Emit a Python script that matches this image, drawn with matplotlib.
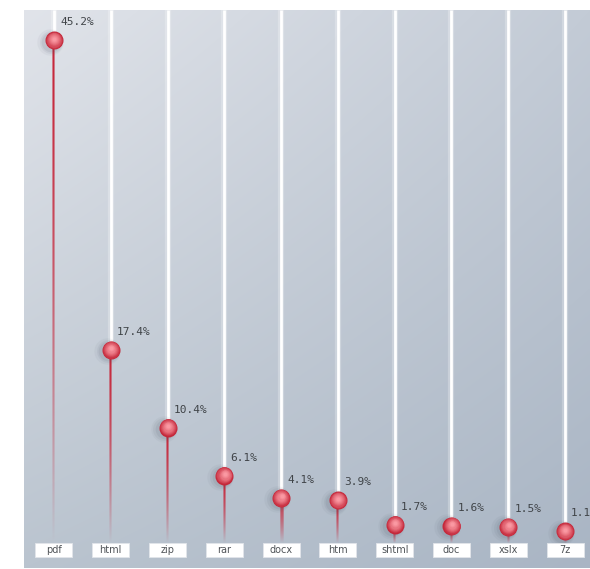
import numpy as np
import matplotlib
matplotlib.use("Agg")
import matplotlib.pyplot as plt
from matplotlib.patches import Rectangle
from matplotlib.colors import to_rgb

# File-type share of downloads (%)
categories = ["pdf", "html", "zip", "rar", "docx", "htm", "shtml", "doc", "xslx", "7z"]
shares = [45.2, 17.4, 10.4, 6.1, 4.1, 3.9, 1.7, 1.6, 1.5, 1.1]
value_labels = ["45.2%", "17.4%", "10.4%", "6.1%", "4.1%", "3.9%", "1.7%", "1.6%", "1.5%", "1.1%"]

W, H, DPI = 590, 569, 100
fig = plt.figure(figsize=(W / DPI, H / DPI), dpi=DPI)
fig.patch.set_facecolor("white")

left_px, top_px, bottom_px = 24, 10, 568
ax = fig.add_axes([left_px / W, 1 - bottom_px / H, (W - left_px) / W, (bottom_px - top_px) / H])
ax.set_axis_off()

xmin, xmax = -0.528, 9.44
ymin, ymax = -2.2, 47.9
ax.set_xlim(xmin, xmax)
ax.set_ylim(ymin, ymax)

# pixel -> data unit conversions
px_x = (xmax - xmin) / (W - left_px)
px_y = (ymax - ymin) / (bottom_px - top_px)

# diagonal background gradient
tl = np.array(to_rgb("#e1e4ea"))
tr = np.array(to_rgb("#c3cbd6"))
bl = np.array(to_rgb("#bac4cf"))
br = np.array(to_rgb("#a9b5c4"))
gx = np.linspace(0, 1, 300)[None, :, None]
gy = np.linspace(0, 1, 300)[:, None, None]
grad = (tl * (1 - gx) * (1 - gy) + tr * gx * (1 - gy) + bl * (1 - gx) * gy + br * gx * gy)
ax.imshow(grad, extent=[xmin, xmax, ymin, ymax], origin="upper", aspect="auto", zorder=0,
          interpolation="bilinear")

xs = np.arange(len(categories))

# vertical fade used for the red stems (top opaque -> bottom transparent)
n = 200
t = np.linspace(0, 1, n)[:, None]
stem_rgba = np.zeros((n, 3, 4))
stem_rgba[..., 0], stem_rgba[..., 1], stem_rgba[..., 2] = 0.78, 0.15, 0.23
stem_alpha = np.clip(1 - t ** 1.6, 0, 1)
stem_rgba[..., 3] = stem_alpha * np.array([0.55, 1.0, 0.55])[None, :]

for x, v in zip(xs, shares):
    # white guide line from the top down to the marker
    ax.plot([x, x], [v, ymax], color="white", lw=4.5, alpha=0.25, solid_capstyle="butt", zorder=1)
    ax.plot([x, x], [v, ymax], color="white", lw=2.0, solid_capstyle="butt", zorder=2)
    # red stem below the marker, fading toward the baseline
    ax.imshow(stem_rgba, extent=[x - 1.5 * px_x, x + 1.5 * px_x, 0, v], origin="upper",
              aspect="auto", interpolation="bilinear", zorder=3)

ax.set_xlim(xmin, xmax)
ax.set_ylim(ymin, ymax)

# marker shadows
for off, s, a in [(4.0, 360, 0.05), (3.2, 270, 0.07), (2.6, 200, 0.09)]:
    ax.scatter(xs - off * px_x, np.array(shares) - 1.5 * px_y, s=s, color="#4a5462",
               alpha=a, linewidths=0, zorder=4)

# shaded spheres
outer = np.array(to_rgb("#c4283a"))
inner = np.array(to_rgb("#fa98a2"))
steps = 10
for k in range(steps):
    f = k / (steps - 1)
    size = 160 * (1 - f) ** 1.2 + 8
    col = outer * (1 - f) + inner * f
    shift = f * 1.5
    ax.scatter(xs + 0.3 * shift * px_x, np.array(shares) + shift * px_y, s=size,
               color=col, linewidths=0, zorder=5 + k * 0.01)

# value labels
for x, v, lab in zip(xs, shares, value_labels):
    ax.text(x + 6 * px_x, v + 18 * px_y, lab, fontsize=8, family="DejaVu Sans Mono",
            color="#404448", ha="left", va="center", zorder=7)

# category boxes along the bottom
box_w, box_h, box_y = 37 * px_x, 14 * px_y, -0.6
for x, c in zip(xs, categories):
    ax.add_patch(Rectangle((x - box_w / 2, box_y - box_h / 2), box_w, box_h, fc="white",
                           ec="#e2e5ea", lw=0.6, zorder=6))
    ax.text(x, box_y, c, fontsize=7, color="#505458", ha="center", va="center", zorder=7)

fig.savefig("out.png", dpi=DPI)
